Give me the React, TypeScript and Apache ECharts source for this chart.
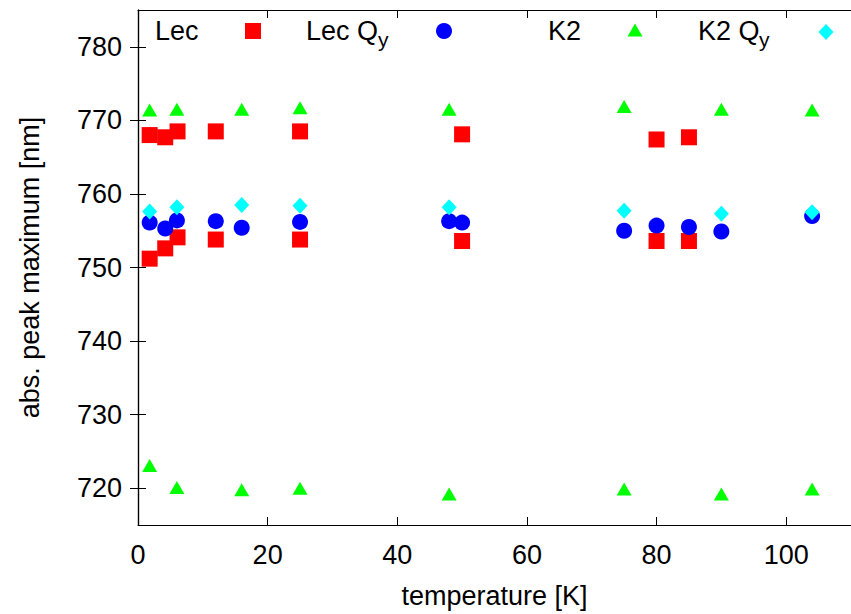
import React, { useEffect, useRef } from "react";
import * as echarts from "echarts";

// temperatures [K] and absorption peak maxima [nm]
const lecT = [1.8, 4.2, 6.1, 12, 25, 50, 80, 85];
const lecHigh = [768.0, 767.7, 768.5, 768.5, 768.5, 768.1, 767.4, 767.7];
const lecLow = [751.2, 752.6, 754.1, 753.8, 753.8, 753.6, 753.6, 753.6];

const lecQyT = [1.8, 4.2, 6, 12, 16, 25, 48, 50, 75, 80, 85, 90, 104];
const lecQy = [756.1, 755.3, 756.4, 756.3, 755.4, 756.2, 756.3, 756.1, 755.0, 755.7, 755.5, 754.9, 757.0];

const k2T = [1.8, 6, 16, 25, 48, 75, 90, 104];
const k2High = [771.4, 771.5, 771.5, 771.7, 771.5, 771.9, 771.5, 771.4];
const k2Low = [723.1, 720.1, 719.8, 720.0, 719.2, 719.9, 719.2, 719.9];

const k2QyT = [1.8, 6, 16, 25, 48, 75, 90, 104];
const k2Qy = [757.6, 758.2, 758.5, 758.4, 758.2, 757.7, 757.3, 757.5];

const xTicks = [0, 20, 40, 60, 80, 100];
const yTicks = [720, 730, 740, 750, 760, 770, 780];

const FONT = "'Liberation Sans', Arial, Helvetica, sans-serif";
const FS = 27;

const pairs = (xs: number[], ys: number[]) => xs.map((x, i) => [x, ys[i]]);

export default function App() {
  const ref = useRef<HTMLDivElement>(null);
  useEffect(() => {
    if (!ref.current) return;
    const chart = echarts.init(ref.current, undefined, { renderer: "svg" });
    const axisLine = { show: true, lineStyle: { color: "#000", width: 1.2 } };
    const tickStyle = { color: "#000", width: 1 };
    const labelStyle = { color: "#000", fontSize: FS, fontFamily: FONT };
    chart.setOption({
      animation: false,
      backgroundColor: "#fff",
      grid: { left: 138, top: 10, width: 719, height: 518, containLabel: false },
      xAxis: [
        {
          type: "value",
          min: 0,
          max: 110,
          position: "bottom",
          axisLine,
          splitLine: { show: false },
          axisTick: { show: true, inside: true, length: 8, lineStyle: tickStyle, customValues: xTicks },
          axisLabel: { ...labelStyle, margin: 16, customValues: xTicks },
          name: "temperature [K]",
          nameLocation: "middle",
          nameGap: 57,
          nameTextStyle: { ...labelStyle },
        },
        {
          type: "value",
          min: 0,
          max: 110,
          position: "top",
          axisLine,
          splitLine: { show: false },
          axisTick: { show: true, inside: true, length: 8, lineStyle: tickStyle, customValues: xTicks },
          axisLabel: { show: false },
        },
      ],
      yAxis: [
        {
          type: "value",
          min: 715,
          max: 785,
          position: "left",
          axisLine,
          splitLine: { show: false },
          axisTick: { show: true, inside: true, length: 8, lineStyle: tickStyle, customValues: yTicks },
          axisLabel: { ...labelStyle, margin: 16, customValues: yTicks },
          name: "abs. peak maximum [nm]",
          nameLocation: "middle",
          nameGap: 95,
          nameTextStyle: { ...labelStyle },
        },
        {
          type: "value",
          min: 715,
          max: 785,
          position: "right",
          axisLine,
          splitLine: { show: false },
          axisTick: { show: true, inside: true, length: 8, lineStyle: tickStyle, customValues: yTicks },
          axisLabel: { show: false },
        },
      ],
      series: [
        {
          name: "Lec",
          type: "scatter",
          symbol: "rect",
          symbolSize: 16,
          itemStyle: { color: "#ff0000", opacity: 1 },
          data: [...pairs(lecT, lecHigh), ...pairs(lecT, lecLow)],
        },
        {
          name: "Lec Qy",
          type: "scatter",
          symbol: "circle",
          symbolSize: 16,
          itemStyle: { color: "#0000ff", opacity: 1 },
          data: pairs(lecQyT, lecQy),
        },
        {
          name: "K2",
          type: "scatter",
          symbol: "triangle",
          symbolSize: [15, 13],
          itemStyle: { color: "#00ff00", opacity: 1 },
          data: [...pairs(k2T, k2High), ...pairs(k2T, k2Low)],
        },
        {
          name: "K2 Qy",
          type: "scatter",
          symbol: "diamond",
          symbolSize: [15, 16],
          itemStyle: { color: "#00ffff", opacity: 1 },
          data: pairs(k2QyT, k2Qy),
        },
      ],
      graphic: [
        { type: "text", x: 155, y: 31, style: { text: "Lec", fill: "#000", font: `${FS}px ${FONT}`, verticalAlign: "middle", align: "left" } },
        { type: "rect", shape: { x: 245, y: 23, width: 16, height: 16 }, style: { fill: "#ff0000" } },
        { type: "text", x: 306, y: 31, style: { text: "Lec Q", fill: "#000", font: `${FS}px ${FONT}`, verticalAlign: "middle", align: "left" } },
        { type: "text", x: 378, y: 39, style: { text: "y", fill: "#000", font: `21px ${FONT}`, verticalAlign: "middle", align: "left" } },
        { type: "circle", shape: { cx: 444, cy: 31, r: 8 }, style: { fill: "#0000ff" } },
        { type: "text", x: 548, y: 31, style: { text: "K2", fill: "#000", font: `${FS}px ${FONT}`, verticalAlign: "middle", align: "left" } },
        { type: "polygon", shape: { points: [[627.5, 36.5], [642.5, 36.5], [635, 23.5]] }, style: { fill: "#00ff00" } },
        { type: "text", x: 698, y: 31, style: { text: "K2 Q", fill: "#000", font: `${FS}px ${FONT}`, verticalAlign: "middle", align: "left" } },
        { type: "text", x: 759, y: 39, style: { text: "y", fill: "#000", font: `21px ${FONT}`, verticalAlign: "middle", align: "left" } },
        { type: "polygon", shape: { points: [[826, 24], [833.5, 32], [826, 40], [818.5, 32]] }, style: { fill: "#00ffff" } },
      ],
    });
    return () => chart.dispose();
  }, []);
  return (
    <div
      ref={ref}
      style={{ position: "absolute", left: 0, top: 0, width: 851, height: 614, background: "#fff" }}
    />
  );
}
